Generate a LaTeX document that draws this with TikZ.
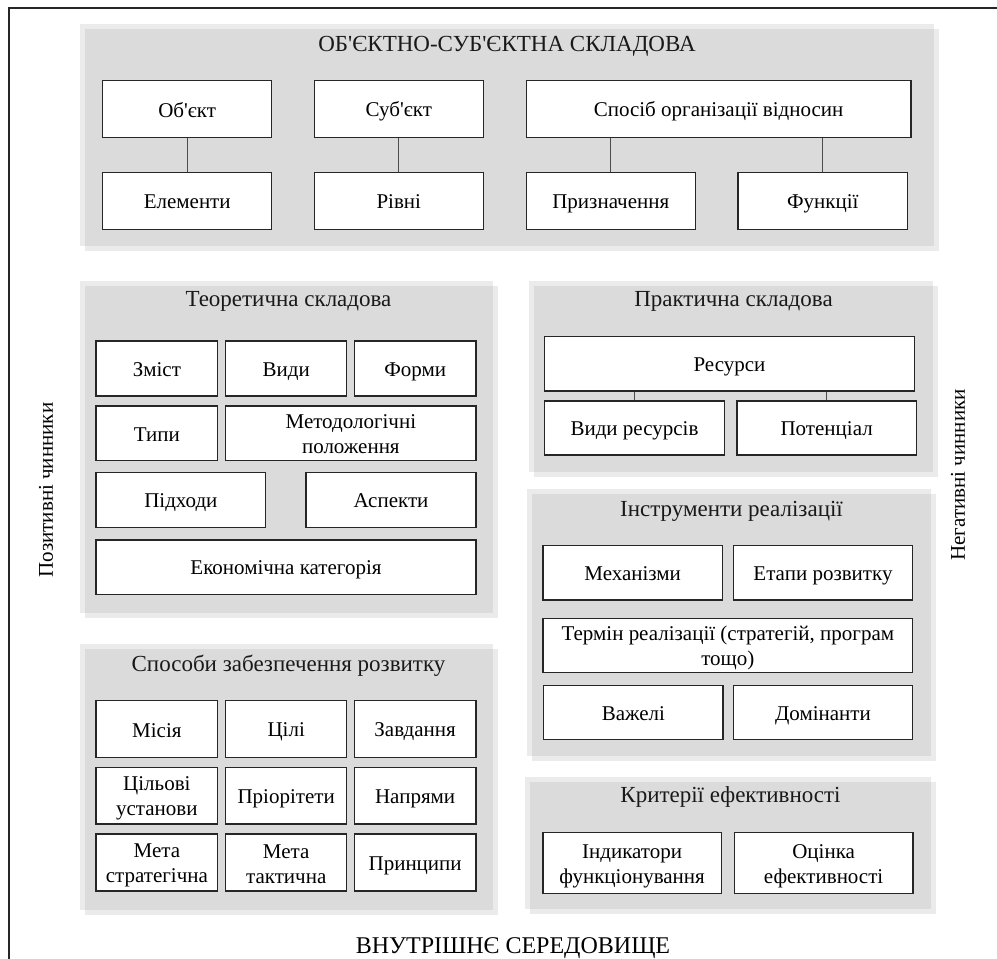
\documentclass[tikz,border=0pt]{standalone}
\usepackage{fontspec}
\setmainfont{Liberation Serif}[Ligatures=TeXOff]
\tikzset{
  boxstyle/.style={draw=black!85, line width=1.2pt, fill=white, inner sep=0pt, align=center,
    font=\fontsize{21}{25}\selectfont},
  conn/.style={draw=black!70, line width=1pt},
  ptitle/.style={font=\fontsize{23}{27}\selectfont, text=black!90},
  sidelabel/.style={font=\fontsize{21}{24}\selectfont, rotate=90},
}
\colorlet{panellight}{black!8}
\colorlet{paneldark}{black!14}
\newcommand{\bstrut}{\rule[-4pt]{0pt}{24pt}}
\newcommand{\bx}[6]{%
  \node[boxstyle, minimum width={(#4-#2)*1pt}, minimum height={(#5-#3)*1pt}]
    (#1) at ({(#2+#4)/2},{(#3+#5)/2}) {\bstrut #6\bstrut};}
\newcommand{\panel}[4]{%
  \fill[panellight] (#1,#2) rectangle (#3,#4);
  \fill[panellight] (#1+5,#2+5) rectangle (#3+5,#4+5);
  \fill[paneldark] (#1+5,#2+5) rectangle (#3,#4);}
\begin{document}
\begin{tikzpicture}[x=1pt,y=-1pt]
\useasboundingbox (0,0) rectangle (997,959);
% outer frame (clipped)
\draw[line width=1.3pt, black!85] (997,8) -- (9,8) -- (9,959);
% panels
\panel{80}{24}{934}{246}
\panel{80}{281}{493}{613}
\panel{529}{281}{933}{472}
\panel{527}{489}{931}{756}
\panel{80}{644}{493}{910}
\panel{525}{777}{931}{909}
% titles
\node[ptitle] (t1) at (507,46.5) {ОБ'ЄКТНО-СУБ'ЄКТНА СКЛАДОВА};
\node[ptitle] (t2) at (288.5,301) {Теоретична складова};
\node[ptitle] (t3) at (733.5,301) {Практична складова};
\node[ptitle] (t4) at (731.5,511) {Інструменти реалізації};
\node[ptitle] (t5) at (288.5,666) {Способи забезпечення розвитку};
\node[ptitle] (t6) at (730.5,797) {Критерії ефективності};
% top panel
\bx{obj}{102.7}{80.7}{271.7}{137.3}{Об'єкт}
\bx{subj}{314.3}{80.7}{483.3}{137.3}{Суб'єкт}
\bx{sposib}{526.3}{80.7}{911}{137.3}{Спосіб організації відносин}
\bx{elem}{102.7}{172.3}{271.7}{229.3}{Елементи}
\bx{rivni}{314.3}{172.3}{483.3}{229.3}{Рівні}
\bx{pryzn}{526.3}{172.3}{695.3}{229.3}{Призначення}
\bx{funk}{738}{172.3}{907.7}{229.3}{Функції}
\draw[conn] (obj.south) -- (elem.north);
\draw[conn] (subj.south) -- (rivni.north);
\draw[conn] (pryzn.north) -- (pryzn.north |- sposib.south);
\draw[conn] (funk.north) -- (funk.north |- sposib.south);
% theoretical
\bx{zmist}{96}{341}{217.7}{396}{Зміст}
\bx{vydy}{225.7}{341}{346.7}{396}{Види}
\bx{formy}{354.3}{341}{476}{396}{Форми}
\bx{typy}{96}{406}{217.7}{460.7}{Типи}
\bx{metod}{225.7}{406}{476}{460.7}{Методологічні\\положення}
\bx{pidkh}{96}{472.3}{265.7}{527.3}{Підходи}
\bx{aspekty}{306}{472.3}{476}{527.3}{Аспекти}
\bx{ekon}{96}{540}{476}{594.3}{Економічна категорія}
% practical
\bx{resursy}{544.7}{336.7}{914.3}{391}{Ресурси}
\bx{vydyres}{544.7}{401}{724.3}{455}{Види ресурсів}
\bx{potents}{737}{401}{916.3}{455}{Потенціал}
\draw[conn] (vydyres.north) -- (vydyres.north |- resursy.south);
\draw[conn] (potents.north) -- (potents.north |- resursy.south);
% instruments
\bx{mekh}{543}{545.7}{722.3}{600}{Механізми}
\bx{etapy}{733.3}{545.7}{912.7}{600}{Етапи розвитку}
\bx{termin}{543}{618.3}{912.7}{672.7}{Термін реалізації (стратегій, програм\\тощо)}
\bx{vazheli}{543.7}{685.7}{723}{739.3}{Важелі}
\bx{domin}{733.3}{685.7}{912.7}{739.3}{Домінанти}
% ways
\bx{misiya}{96}{700.7}{217.7}{757.3}{Місія}
\bx{tsili}{225.7}{700.7}{346.7}{757.3}{Цілі}
\bx{zavd}{354.3}{700.7}{476}{757.3}{Завдання}
\bx{tsilovi}{96}{767.3}{217.7}{824}{Цільові\\установи}
\bx{priory}{225.7}{767.3}{346.7}{824}{Пріорітети}
\bx{napr}{354.3}{767.3}{476}{824}{Напрями}
\bx{metastr}{96}{834}{217.7}{891}{Мета\\стратегічна}
\bx{metatakt}{225.7}{834}{346.7}{891}{Мета\\тактична}
\bx{pryntsypy}{354.3}{834}{476}{891}{Принципи}
% criteria
\bx{indyk}{543}{832.7}{721.3}{893.3}{Індикатори\\функціонування}
\bx{otsinka}{734.3}{832.7}{913}{893.3}{Оцінка\\ефективності}
% side labels
\node[sidelabel] (pos) at (46,490) {Позитивні чинники};
\node[sidelabel] (neg) at (958,475) {Негативні чинники};
\node[font=\fontsize{24}{28}\selectfont] (env) at (513,948) {ВНУТРІШНЄ СЕРЕДОВИЩЕ};
\end{tikzpicture}
\end{document}
